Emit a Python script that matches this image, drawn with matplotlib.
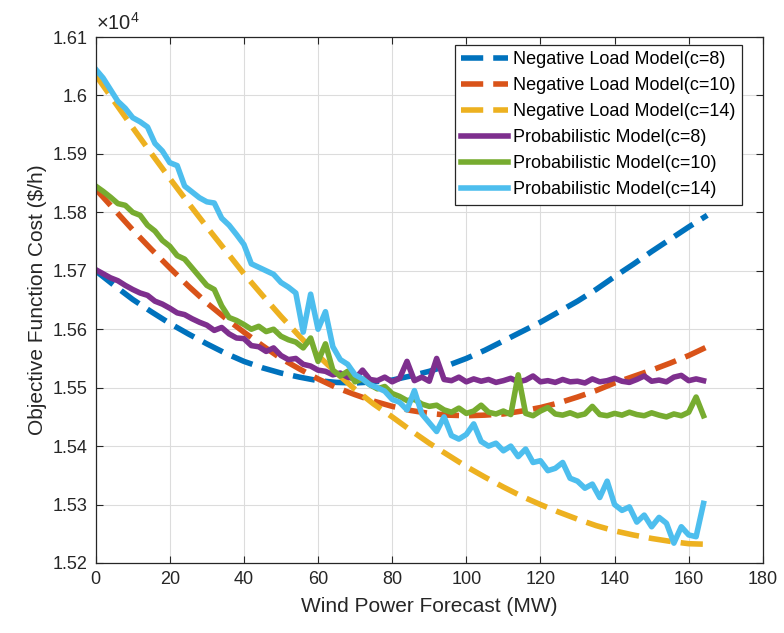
import numpy as np
import matplotlib
matplotlib.use('Agg')
import matplotlib.pyplot as plt
from matplotlib.ticker import FuncFormatter

plt.rcParams['font.family'] = ['Liberation Sans', 'DejaVu Sans']
plt.rcParams['mathtext.fontset'] = 'custom'
plt.rcParams['mathtext.rm'] = 'Liberation Sans'

# negative load model, smooth curves ($/h)
wind_smooth = [0, 5, 10, 15, 20, 25, 30, 35, 40, 45, 50, 55, 60, 65, 70, 75, 80,
               85, 90, 95, 100, 105, 110, 115, 120, 125, 130, 135, 140, 145, 150,
               155, 160, 165]
neg_c8 = [15700, 15675, 15651, 15630, 15610, 15592, 15575, 15559, 15545, 15534,
          15525, 15518, 15512, 15509, 15508, 15510, 15513, 15520, 15528, 15538,
          15550, 15564, 15580, 15596, 15612, 15630, 15648, 15668, 15690, 15711,
          15733, 15754, 15775, 15795]
neg_c10 = [15840, 15805, 15770, 15737, 15705, 15674, 15645, 15619, 15595, 15572,
           15550, 15532, 15515, 15500, 15488, 15477, 15468, 15461, 15456, 15453,
           15452, 15453, 15455, 15460, 15466, 15474, 15484, 15495, 15508, 15519,
           15530, 15542, 15555, 15570]
neg_c14 = [16035, 15990, 15945, 15901, 15858, 15816, 15775, 15735, 15695, 15658,
           15622, 15588, 15555, 15525, 15497, 15472, 15450, 15427, 15405, 15385,
           15365, 15347, 15330, 15314, 15300, 15287, 15275, 15264, 15255, 15248,
           15242, 15237, 15233, 15232]

# probabilistic model, noisy curves ($/h), wind = 0, 2, ..., 164
wind_prob = np.arange(0, 165, 2)
prob_c8 = [15702, 15695, 15688, 15683, 15675, 15668, 15662, 15658, 15648, 15643,
           15636, 15628, 15625, 15618, 15612, 15607, 15598, 15603, 15592, 15585,
           15584, 15572, 15570, 15562, 15568, 15555, 15548, 15550, 15540, 15537,
           15530, 15528, 15522, 15525, 15518, 15515, 15530, 15514, 15512, 15518,
           15510, 15516, 15545, 15512, 15518, 15511, 15550, 15514, 15512, 15518,
           15510, 15515, 15511, 15514, 15509, 15512, 15516, 15510, 15513, 15520,
           15510, 15512, 15509, 15514, 15510, 15511, 15508, 15515, 15510, 15512,
           15516, 15511, 15509, 15514, 15520, 15511, 15513, 15510, 15518, 15521,
           15512, 15515, 15512]
prob_c10 = [15845, 15836, 15826, 15815, 15812, 15800, 15795, 15778, 15768, 15752,
            15742, 15726, 15720, 15705, 15690, 15675, 15668, 15640, 15620, 15615,
            15608, 15600, 15605, 15596, 15600, 15588, 15582, 15578, 15568, 15585,
            15545, 15575, 15530, 15520, 15528, 15510, 15515, 15505, 15498, 15502,
            15490, 15485, 15478, 15480, 15472, 15468, 15470, 15462, 15458, 15465,
            15456, 15460, 15470, 15458, 15455, 15460, 15454, 15522, 15456, 15452,
            15460, 15466, 15455, 15453, 15457, 15452, 15455, 15468, 15454, 15452,
            15456, 15453, 15458, 15454, 15452, 15457, 15453, 15450, 15455, 15452,
            15458, 15484, 15452]
prob_c14 = [16045, 16030, 16010, 15990, 15978, 15962, 15955, 15946, 15918, 15905,
            15885, 15880, 15845, 15835, 15825, 15818, 15816, 15790, 15778, 15762,
            15745, 15712, 15706, 15700, 15694, 15680, 15672, 15662, 15595, 15660,
            15600, 15630, 15570, 15548, 15540, 15522, 15515, 15505, 15500, 15494,
            15480, 15475, 15462, 15495, 15455, 15440, 15425, 15450, 15418, 15412,
            15420, 15438, 15408, 15400, 15405, 15392, 15400, 15382, 15395, 15372,
            15375, 15358, 15362, 15372, 15345, 15340, 15328, 15335, 15312, 15340,
            15300, 15290, 15296, 15270, 15282, 15262, 15278, 15268, 15234, 15262,
            15248, 15245, 15302]

fig = plt.figure(figsize=(7.84, 6.33), dpi=100)
ax = fig.add_axes([0.122, 0.1106, 0.851, 0.8309])

lw = 4
dash = (4, 1.8)
ax.plot(wind_smooth, neg_c8, color='#0072BD', lw=lw, dashes=dash, label='Negative Load Model(c=8)')
ax.plot(wind_smooth, neg_c10, color='#D95319', lw=lw, dashes=dash, label='Negative Load Model(c=10)')
ax.plot(wind_smooth, neg_c14, color='#EDB120', lw=lw, dashes=dash, label='Negative Load Model(c=14)')
ax.plot(wind_prob, prob_c8, color='#7E2F8E', lw=lw, label='Probabilistic Model(c=8)')
ax.plot(wind_prob, prob_c10, color='#77AC30', lw=lw, label='Probabilistic Model(c=10)')
ax.plot(wind_prob, prob_c14, color='#4DBEEE', lw=lw, label='Probabilistic Model(c=14)')

ax.set_xlim(0, 180)
ax.set_ylim(15200, 16100)
ax.set_xticks(np.arange(0, 181, 20))
ax.set_yticks(np.arange(15200, 16101, 100))
ax.yaxis.set_major_formatter(FuncFormatter(lambda v, p: f'{v / 1e4:g}'))
ax.grid(True, color='#dcdcdc', lw=0.8)
ax.set_axisbelow(True)
ax.tick_params(direction='in', length=5, width=0.8, top=True, right=True,
               labelsize=13, colors='#262626', pad=6)
for s in ax.spines.values():
    s.set_color('#262626')
    s.set_linewidth(0.9)

ax.set_xlabel('Wind Power Forecast (MW)', fontsize=15, color='#262626', labelpad=6)
ax.set_ylabel('Objective Function Cost (\\$/h)', fontsize=15, color='#262626')
ax.text(0.0, 1.006, r'$\times10^{4}$', transform=ax.transAxes, fontsize=14.5,
        color='#262626', ha='left', va='bottom')

leg = ax.legend(loc='upper right', bbox_to_anchor=(0.969, 0.985), borderaxespad=0,
                fontsize=13, handlelength=2.6, labelspacing=0.5, handletextpad=0.3,
                borderpad=0.35, fancybox=False, framealpha=1, edgecolor='#262626')
leg.get_frame().set_linewidth(0.9)

fig.savefig('out.png', dpi=100)
